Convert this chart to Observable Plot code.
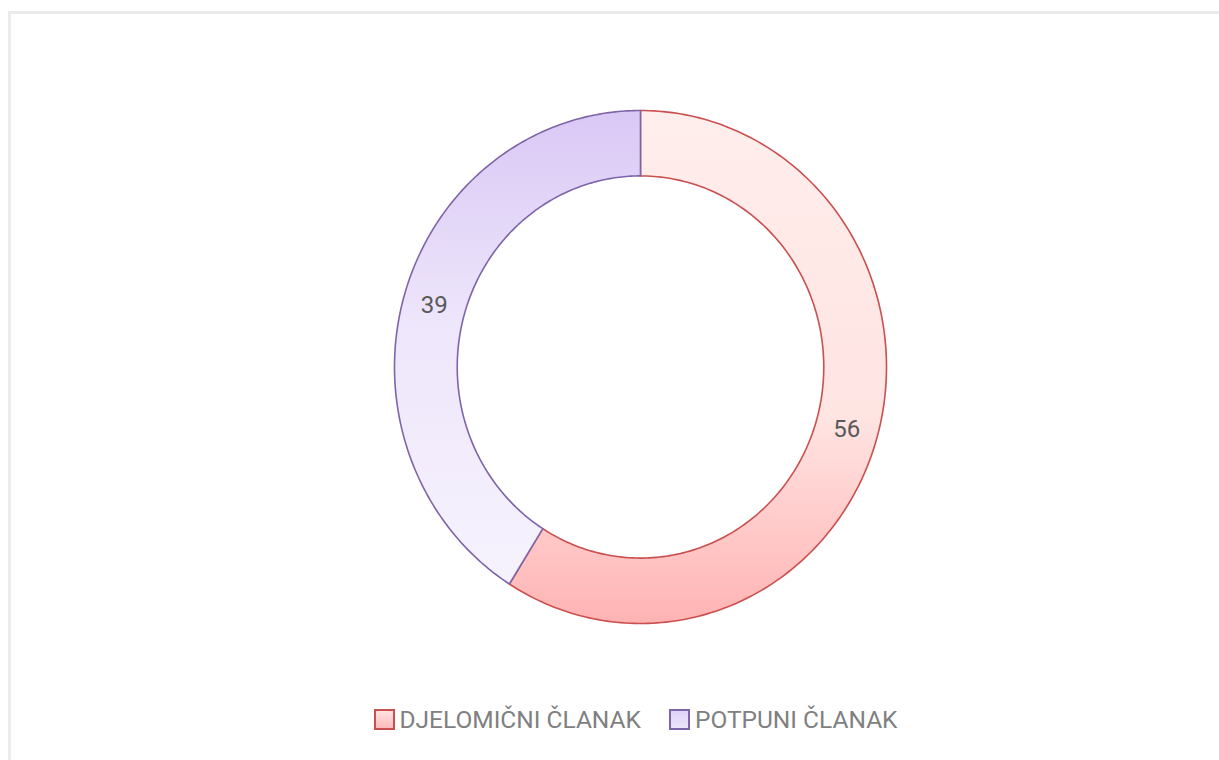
<!DOCTYPE html>
<html>
<head>
<meta charset="utf-8">
<script src="https://cdn.jsdelivr.net/npm/d3@7"></script>
<script src="https://cdn.jsdelivr.net/npm/@observablehq/plot@0.6"></script>
<style>
  html, body { margin: 0; padding: 0; background: #ffffff; width: 1219px; height: 760px; overflow: hidden; }
  #frame { position: absolute; left: 8px; top: 11px; width: 1230px; height: 760px; border-top: 3px solid #ebebeb; border-left: 3px solid #ebebeb; box-sizing: border-box; }
  #chart { position: absolute; left: 0; top: 0; }
  #legend { position: absolute; left: 26px; top: 705px; width: 1219px; display: flex; justify-content: center; align-items: center; font-family: Roboto, sans-serif; font-size: 24.5px; color: #808080; }
  .item { display: flex; align-items: center; margin: 0 14px; }
  .sw { width: 21px; height: 21px; box-sizing: border-box; margin-right: 5px; }
</style>
</head>
<body>
<div id="frame"></div>
<div id="chart"></div>
<div id="legend"></div>
<script>
const categories = ["DJELOMIČNI ČLANAK", "POTPUNI ČLANAK"];
const values = [56, 39];
const strokes = ["#c9504f", "#7e64a8"];
const fills = ["url(#gPink)", "url(#gPurple)"];
const swatchFills = ["linear-gradient(#ffe3e1, #ffbaba)", "linear-gradient(#e0d3f8, #ece4fb)"];

const innerR = 0.745;
const total = d3.sum(values);
let acc = 0;
const slices = categories.map((c, i) => {
  const a0 = acc / total * 2 * Math.PI;
  acc += values[i];
  const a1 = acc / total * 2 * Math.PI;
  return {category: c, value: values[i], a0, a1};
});

function ring(s) {
  const n = 200;
  const pts = [];
  for (let k = 0; k <= n; k++) {
    const a = s.a0 + (s.a1 - s.a0) * k / n;
    pts.push({category: s.category, x: Math.sin(a), y: Math.cos(a)});
  }
  for (let k = n; k >= 0; k--) {
    const a = s.a0 + (s.a1 - s.a0) * k / n;
    pts.push({category: s.category, x: innerR * Math.sin(a), y: innerR * Math.cos(a)});
  }
  return pts;
}

const labels = slices.map(s => {
  const a = (s.a0 + s.a1) / 2, r = (1 + innerR) / 2;
  return {x: r * Math.sin(a), y: r * Math.cos(a), text: String(s.value)};
});

const plot = Plot.plot({
  width: 1219,
  height: 690,
  marginLeft: 394,
  marginRight: 333,
  marginTop: 110,
  marginBottom: 67,
  x: {domain: [-1, 1], axis: null},
  y: {domain: [-1, 1], axis: null},
  style: {background: "transparent"},
  marks: [
    ...slices.map((s, i) => Plot.line(ring(s), {x: "x", y: "y", curve: "linear-closed", fill: fills[i], stroke: strokes[i], strokeWidth: 1.6})),
    Plot.text(labels, {x: "x", y: "y", text: "text", fill: "#595959", fontSize: 24, fontFamily: "Roboto, sans-serif"})
  ]
});

const defs = document.createElementNS("http://www.w3.org/2000/svg", "defs");
defs.innerHTML = `
  <linearGradient id="gPink" x1="0" y1="0" x2="0" y2="1">
    <stop offset="0" stop-color="#ffeeec"/>
    <stop offset="0.6" stop-color="#ffe4e2"/>
    <stop offset="1" stop-color="#ffb3b3"/>
  </linearGradient>
  <linearGradient id="gPurple" x1="0" y1="0" x2="0" y2="1">
    <stop offset="0" stop-color="#d9c8f5"/>
    <stop offset="0.45" stop-color="#eee6fb"/>
    <stop offset="1" stop-color="#f6f2fd"/>
  </linearGradient>`;
plot.insertBefore(defs, plot.firstChild);
document.getElementById("chart").appendChild(plot);

const legend = document.getElementById("legend");
categories.forEach((c, i) => {
  const item = document.createElement("div");
  item.className = "item";
  const sw = document.createElement("div");
  sw.className = "sw";
  sw.style.background = swatchFills[i];
  sw.style.border = `2px solid ${strokes[i]}`;
  const t = document.createElement("span");
  t.textContent = c;
  item.appendChild(sw);
  item.appendChild(t);
  legend.appendChild(item);
});
</script>
</body>
</html>
